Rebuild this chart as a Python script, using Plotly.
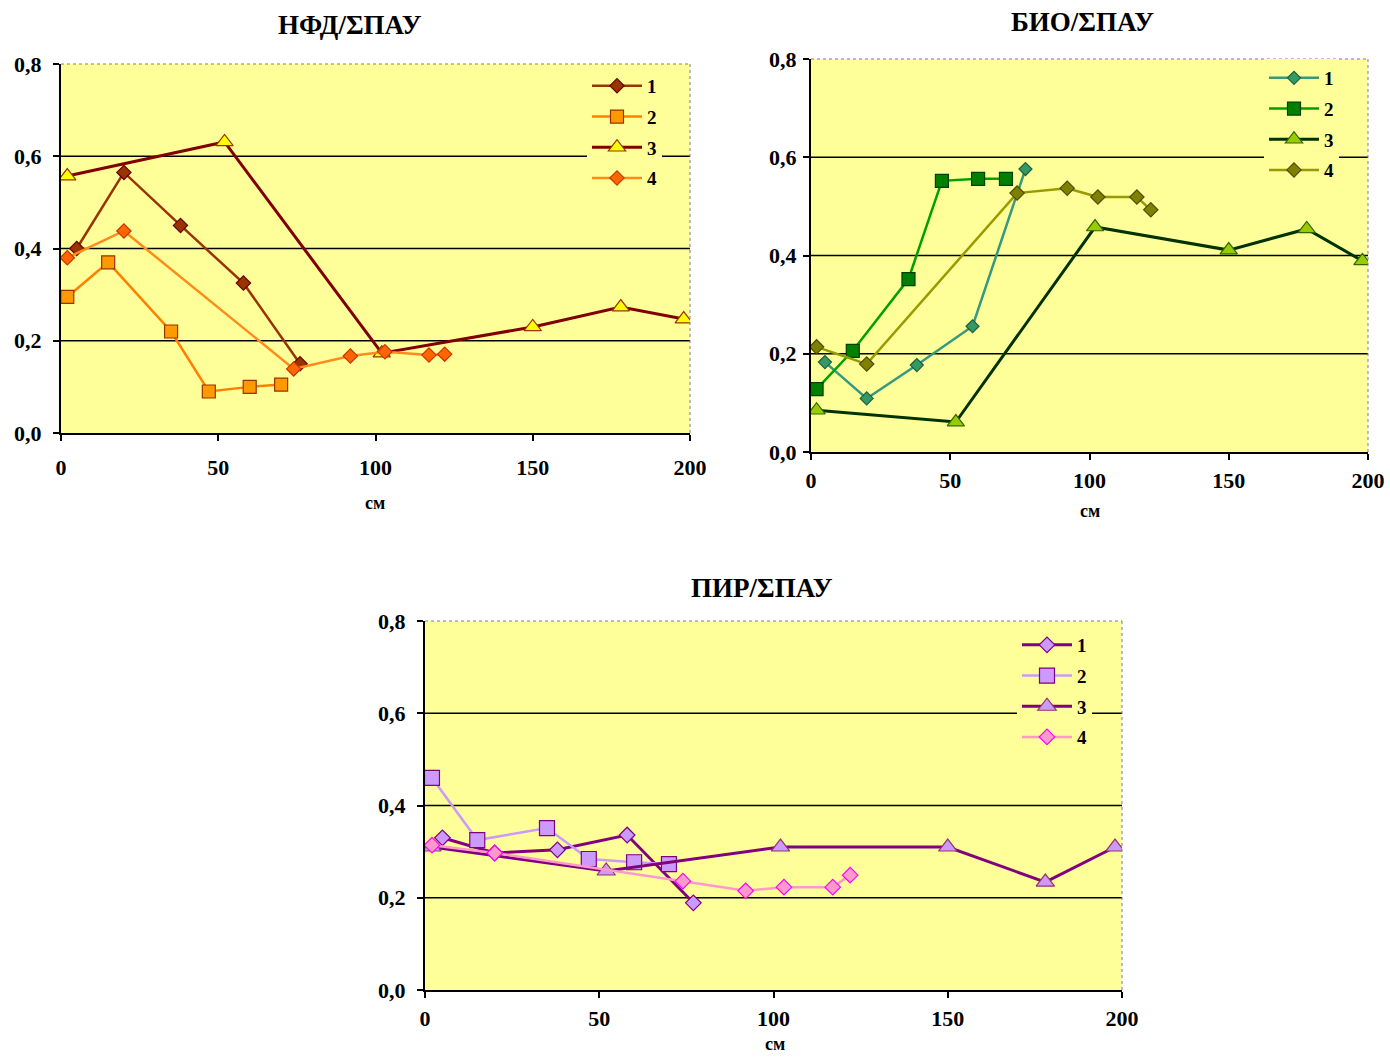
import plotly.graph_objects as go

# ---------------- data ----------------
SERIES_NAMES = ["1", "2", "3", "4"]
TITLES = ["НФД/ΣПАУ", "БИО/ΣПАУ", "ПИР/ΣПАУ"]
X_LABEL = "см"
Y_TICKS = [0.0, 0.2, 0.4, 0.6, 0.8]
X_TICKS = [0, 50, 100, 150, 200]

# chart 1: НФД/ΣПАУ
c1_s1_x = [5, 20, 38, 58, 76]
c1_s1_y = [0.40, 0.565, 0.45, 0.325, 0.15]
c1_s2_x = [2, 15, 35, 47, 60, 70]
c1_s2_y = [0.295, 0.37, 0.22, 0.09, 0.10, 0.105]
c1_s3_x = [2, 52, 102, 150, 178, 198]
c1_s3_y = [0.557, 0.631, 0.173, 0.23, 0.273, 0.247]
c1_s4_x = [2, 20, 74, 92, 103, 117, 122]
c1_s4_y = [0.38, 0.438, 0.139, 0.167, 0.176, 0.169, 0.171]

# chart 2: БИО/ΣПАУ
c2_s1_x = [5, 20, 38, 58, 77]
c2_s1_y = [0.183, 0.109, 0.177, 0.256, 0.576]
c2_s2_x = [2, 15, 35, 47, 60, 70]
c2_s2_y = [0.128, 0.206, 0.352, 0.552, 0.556, 0.556]
c2_s3_x = [2, 52, 102, 150, 178, 198]
c2_s3_y = [0.085, 0.061, 0.458, 0.411, 0.454, 0.389]
c2_s4_x = [2, 20, 74, 92, 103, 117, 122]
c2_s4_y = [0.214, 0.179, 0.527, 0.537, 0.519, 0.519, 0.493]

# chart 3: ПИР/ΣПАУ
c3_s1_x = [5, 20, 38, 58, 77]
c3_s1_y = [0.33, 0.297, 0.304, 0.336, 0.189]
c3_s2_x = [2, 15, 35, 47, 60, 70]
c3_s2_y = [0.46, 0.325, 0.351, 0.284, 0.277, 0.273]
c3_s3_x = [2, 52, 102, 150, 178, 198]
c3_s3_y = [0.31, 0.258, 0.31, 0.31, 0.234, 0.31]
c3_s4_x = [2, 20, 74, 92, 103, 117, 122]
c3_s4_y = [0.314, 0.297, 0.236, 0.215, 0.223, 0.223, 0.249]

# ---------------- styles ----------------
W, H = 1390, 1057
FONT = "Liberation Serif"

# plot areas in pixels: (left, right, top, bottom)
AREAS = [(61, 690, 64, 433), (811, 1368, 59, 452), (425, 1122, 621, 990)]
TITLE_POS = [(350, 25), (1082, 22), (762, 588)]
XLAB_POS = [(375, 503), (1090, 511), (775, 1044)]
LEGEND_POS = [(587, 67), (1264, 59), (1017, 626)]
Y_STANDOFF = [7, 2, 7]
X_STANDOFF = [8, 2, 2]

STYLES = [
    [  # chart 1
        dict(line="#993300", lw=2.5, sym="diamond", size=11, fill="#993300", edge="#660000"),
        dict(line="#FF8000", lw=2.5, sym="square", size=13, fill="#FF9900", edge="#993300"),
        dict(line="#800000", lw=3, sym="triangle-up", size=15, fill="#FFFF00", edge="#993300"),
        dict(line="#FF8C1A", lw=2.5, sym="diamond", size=11, fill="#FF6600", edge="#CC3300"),
    ],
    [  # chart 2
        dict(line="#339980", lw=2.5, sym="diamond", size=10, fill="#339966", edge="#1F5F3F"),
        dict(line="#00A000", lw=2.5, sym="square", size=13, fill="#008000", edge="#004000"),
        dict(line="#003300", lw=3, sym="triangle-up", size=15, fill="#99CC00", edge="#336600"),
        dict(line="#999900", lw=2.5, sym="diamond", size=11, fill="#808000", edge="#4D4D00"),
    ],
    [  # chart 3
        dict(line="#800080", lw=3, sym="diamond", size=12, fill="#CC99FF", edge="#800080"),
        dict(line="#CC99FF", lw=2.5, sym="square", size=15, fill="#CC99FF", edge="#800080"),
        dict(line="#800080", lw=3, sym="triangle-up", size=16, fill="#CC99FF", edge="#993366"),
        dict(line="#FF99CC", lw=2.5, sym="diamond", size=12, fill="#FF99CC", edge="#FF00FF"),
    ],
]

DATA = [
    [(c1_s1_x, c1_s1_y), (c1_s2_x, c1_s2_y), (c1_s3_x, c1_s3_y), (c1_s4_x, c1_s4_y)],
    [(c2_s1_x, c2_s1_y), (c2_s2_x, c2_s2_y), (c2_s3_x, c2_s3_y), (c2_s4_x, c2_s4_y)],
    [(c3_s1_x, c3_s1_y), (c3_s2_x, c3_s2_y), (c3_s3_x, c3_s3_y), (c3_s4_x, c3_s4_y)],
]

fig = go.Figure()
shapes = []
annotations = []
layout_extra = {}

for ci in range(3):
    sfx = "" if ci == 0 else str(ci + 1)
    xa, ya = "x" + sfx, "y" + sfx
    leg = "legend" + sfx
    for si, ((xs, ys), st) in enumerate(zip(DATA[ci], STYLES[ci])):
        fig.add_trace(go.Scatter(
            x=xs, y=ys, name=SERIES_NAMES[si], mode="lines+markers",
            xaxis=xa, yaxis=ya, legend=leg, legendgroup=f"c{ci}s{si}",
            line=dict(color=st["line"], width=st["lw"]),
            marker=dict(symbol=st["sym"], size=st["size"], color=st["fill"],
                        line=dict(color=st["edge"], width=1.2)),
        ))
    l, r, t, b = AREAS[ci]
    xdom = [l / W, r / W]
    ydom = [1 - b / H, 1 - t / H]
    layout_extra["xaxis" + sfx] = dict(
        domain=xdom, range=[0, 200], tickvals=X_TICKS, anchor=ya, automargin=False,
        showgrid=False, zeroline=False, showline=True, linecolor="black", linewidth=2,
        ticks="outside", ticklen=6, tickcolor="black", tickwidth=1.5,
        ticklabelstandoff=X_STANDOFF[ci],
        tickfont=dict(family=FONT, size=22, color="black", weight="bold"),
    )
    layout_extra["yaxis" + sfx] = dict(
        domain=ydom, range=[0, 0.8], tickvals=Y_TICKS, tickformat=".1f", anchor=xa,
        automargin=False,
        showgrid=False, zeroline=False, showline=True, linecolor="black", linewidth=2,
        ticks="outside", ticklen=6, tickcolor="black", tickwidth=1.5,
        ticklabelstandoff=Y_STANDOFF[ci],
        tickfont=dict(family=FONT, size=22, color="black", weight="bold"),
    )
    # gridlines at interior ticks
    for v in Y_TICKS[1:-1]:
        shapes.append(dict(type="line", xref=xa + " domain", yref=ya, x0=0, x1=1, y0=v, y1=v,
                           line=dict(color="black", width=1.5), layer="below"))
    # dotted top and right border
    shapes.append(dict(type="line", xref=xa + " domain", yref=ya + " domain", x0=0, x1=1, y0=1, y1=1,
                       line=dict(color="#808080", width=1, dash="dot"), layer="above"))
    shapes.append(dict(type="line", xref=xa + " domain", yref=ya + " domain", x0=1, x1=1, y0=0, y1=1,
                       line=dict(color="#808080", width=1, dash="dot"), layer="above"))
    # title & axis label
    tx, ty = TITLE_POS[ci]
    annotations.append(dict(text=TITLES[ci], x=tx / W, y=1 - ty / H, xref="paper", yref="paper",
                            showarrow=False, xanchor="center", yanchor="middle",
                            font=dict(family=FONT, size=27, color="black", weight="bold")))
    lx, ly = XLAB_POS[ci]
    annotations.append(dict(text=X_LABEL, x=lx / W, y=1 - ly / H, xref="paper", yref="paper",
                            showarrow=False, xanchor="center", yanchor="middle",
                            font=dict(family=FONT, size=18, color="black", weight="bold")))
    gx, gy = LEGEND_POS[ci]
    layout_extra[leg] = dict(
        x=gx / W, y=1 - gy / H, xanchor="left", yanchor="top", xref="paper", yref="paper",
        bgcolor="#FFFF99", borderwidth=0, tracegroupgap=3, itemwidth=50,
        font=dict(family=FONT, size=19, color="black", weight="bold"),
    )

fig.update_layout(
    width=W, height=H, margin=dict(l=0, r=0, t=0, b=0, autoexpand=False),
    paper_bgcolor="white", plot_bgcolor="#FFFF99",
    separators=", ", showlegend=True,
    shapes=shapes, annotations=annotations,
    **layout_extra,
)

fig.write_html("out.html")
